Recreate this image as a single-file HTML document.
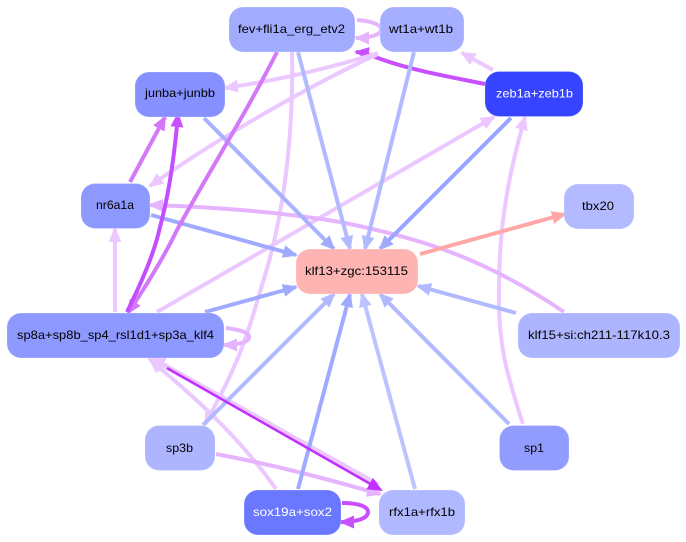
<!DOCTYPE html>
<html><head><meta charset="utf-8"><style>
html,body{margin:0;padding:0;background:#fff;width:686px;height:542px;overflow:hidden}
svg{display:block}
text{font-family:"Liberation Sans",sans-serif;font-size:12px;fill:#000}
rect{stroke:#fff;stroke-opacity:.22;stroke-width:1}
path{fill:none;stroke-width:4}
.p1{stroke:#ebc8ff;marker-end:url(#m1)}
.p2{stroke:#e6b4ff;marker-end:url(#m2)}
.p3{stroke:#d278f8;marker-end:url(#m3)}
.p4{stroke:#c850ff;marker-end:url(#m4)}
.p5{stroke:#c030ff;marker-end:url(#m5);stroke-width:2.5}
.b1{stroke:#a0aaff;marker-end:url(#b1)}
.b2{stroke:#b2baff;marker-end:url(#b2)}
.b3{stroke:#bcc3ff;marker-end:url(#b3)}
.r1{stroke:#ffa6a6;marker-end:url(#r1)}
</style></head><body>
<svg width="686" height="542" viewBox="0 0 686 542" xmlns="http://www.w3.org/2000/svg">
<defs>
<marker id="m1" markerUnits="userSpaceOnUse" orient="auto" markerWidth="16" markerHeight="15" refX="13" refY="7"><polygon points="0,0.500 15,7 0,13.500" fill="#ebc8ff"/></marker>
<marker id="m1b" markerUnits="userSpaceOnUse" orient="auto" markerWidth="20" markerHeight="19" refX="16" refY="9"><polygon points="0,0.500 19,9 0,17.500" fill="#ebc8ff"/></marker>
<marker id="m2" markerUnits="userSpaceOnUse" orient="auto" markerWidth="16" markerHeight="15" refX="13" refY="7"><polygon points="0,0.500 15,7 0,13.500" fill="#e6b4ff"/></marker>
<marker id="m3" markerUnits="userSpaceOnUse" orient="auto" markerWidth="16" markerHeight="15" refX="13" refY="7"><polygon points="0,0.500 15,7 0,13.500" fill="#d278f8"/></marker>
<marker id="m4" markerUnits="userSpaceOnUse" orient="auto" markerWidth="16" markerHeight="15" refX="13" refY="7"><polygon points="0,0.500 15,7 0,13.500" fill="#c850ff"/></marker>
<marker id="m5" markerUnits="userSpaceOnUse" orient="auto" markerWidth="16" markerHeight="15" refX="13" refY="7"><polygon points="0,0.500 15,7 0,13.500" fill="#c030ff"/></marker>
<marker id="b1" markerUnits="userSpaceOnUse" orient="auto" markerWidth="16" markerHeight="15" refX="13" refY="7"><polygon points="0,0.500 15,7 0,13.500" fill="#a0aaff"/></marker>
<marker id="b2" markerUnits="userSpaceOnUse" orient="auto" markerWidth="16" markerHeight="15" refX="13" refY="7"><polygon points="0,0.500 15,7 0,13.500" fill="#b2baff"/></marker>
<marker id="b3" markerUnits="userSpaceOnUse" orient="auto" markerWidth="16" markerHeight="15" refX="13" refY="7"><polygon points="0,0.500 15,7 0,13.500" fill="#bcc3ff"/></marker>
<marker id="r1" markerUnits="userSpaceOnUse" orient="auto" markerWidth="16" markerHeight="15" refX="13" refY="7"><polygon points="0,0.500 15,7 0,13.500" fill="#ffa6a6"/></marker>
</defs>

<!-- purple under-edge -->
<path class="p4" d="M485,84 C450,77 410,70 378,58 C371,55 365,53 356,52"/>

<!-- pale edges -->
<path class="p1" d="M292,52 C294,150 280,230 262,285 C245,345 235,370 205,424"/>
<path class="p1" d="M378,54 C310,85 215,140 150,186"/>
<path class="p1" d="M378,53 C330,68 280,80 225,88"/>
<path class="p1" d="M115,312 L115,229"/>
<path class="p1" d="M157,312 L494,117"/>
<path class="p1" d="M523,424 C505,370 498,340 499,290 C499,220 510,170 525,117"/>
<path class="p1" d="M493,70 L462,53"/>
<path class="p1" d="M276,489 C245,445 205,405 150,360"/>
<path class="p1" style="stroke-width:5.500;marker-end:url(#m1b)" d="M378,485 L149,357"/>
<path class="p2" d="M564,312 C490,262 430,240 340,222 C280,212 215,207 150,205"/>
<path class="p2" d="M216,454 C280,466 330,480 380,494"/>
<path class="p2" d="M357,20 C372,21 382,25 381,30 C380,35 370,38 356,38"/>
<path class="p2" d="M226,328 C244,330 250,334 249,338 C248,342 238,345 224,345"/>

<!-- blue edges -->
<path class="b2" d="M414,52 L365,249"/>
<path class="b2" d="M298,52 L350,249"/>
<path class="b1" style="stroke:#a8b2ff" d="M204,118 L334,249"/>
<path class="b1" d="M151,215 L296,255"/>
<path class="b1" d="M205,312 L296,287"/>
<path class="b1" style="stroke:#98a4ff" d="M511,118 L380,249"/>
<path class="b2" d="M516,313 L418,286"/>
<path class="b2" d="M509,424 L380,294"/>
<path class="b3" d="M415,489 L362,294"/>
<path class="b1" d="M298,489 L350,294"/>
<path class="b2" d="M203,425 L334,294"/>
<path class="r1" d="M420,254 L565,214"/>

<!-- purple edges -->
<path class="p3" d="M277,52 C245,115 210,170 177,230 C165,255 150,280 128,313"/>
<path class="p3" d="M130,182 L165,117"/>
<path class="p4" style="stroke:#c44dff" d="M127,312 C145,275 155,250 160,227 C170,190 175,150 178,114"/>
<path class="p5" d="M167,368 L381,490"/>
<path class="p4" d="M342,503 C360,503 368,507 368,512 C368,518 358,522 341,522"/>

<!-- nodes -->
<rect x="229" y="7" width="126" height="45" rx="14" fill="#a2acff"/>
<rect x="380" y="7" width="84" height="45" rx="14" fill="#a6afff"/>
<rect x="135" y="72" width="90" height="45" rx="14" fill="#8690ff"/>
<rect x="485" y="71.500" width="98" height="45" rx="14" fill="#3644ff"/>
<rect x="81" y="183.500" width="69" height="45" rx="14" fill="#8e99ff"/>
<rect x="564" y="184" width="70" height="45" rx="14" fill="#b4baff"/>
<rect x="296" y="249" width="122" height="45" rx="14" fill="#ffb4b4"/>
<rect x="7" y="313" width="217" height="45" rx="14" fill="#8e99ff"/>
<rect x="518" y="313" width="162" height="45" rx="14" fill="#adb5ff"/>
<rect x="145" y="425.500" width="70" height="45" rx="14" fill="#adb5ff"/>
<rect x="499.500" y="425.500" width="69.500" height="45" rx="14" fill="#929cff"/>
<rect x="244" y="490" width="97" height="45" rx="14" fill="#6a78ff"/>
<rect x="379" y="490" width="86" height="45" rx="14" fill="#b0b8ff"/>

<!-- labels -->
<text x="238" y="33" textLength="107" lengthAdjust="spacingAndGlyphs">fev+fli1a_erg_etv2</text>
<text x="389" y="33" textLength="64" lengthAdjust="spacingAndGlyphs">wt1a+wt1b</text>
<text x="145" y="97" textLength="70" lengthAdjust="spacingAndGlyphs">junba+junbb</text>
<text x="496" y="97.500" textLength="77" lengthAdjust="spacingAndGlyphs" style="fill:#fff">zeb1a+zeb1b</text>
<text x="96" y="209" textLength="38" lengthAdjust="spacingAndGlyphs">nr6a1a</text>
<text x="582" y="210" textLength="32" lengthAdjust="spacingAndGlyphs">tbx20</text>
<text x="305" y="275" textLength="103" lengthAdjust="spacingAndGlyphs">klf13+zgc:153115</text>
<text x="17" y="339" textLength="197" lengthAdjust="spacingAndGlyphs">sp8a+sp8b_sp4_rsl1d1+sp3a_klf4</text>
<text x="528" y="339" textLength="142" lengthAdjust="spacingAndGlyphs">klf15+si:ch211-117k10.3</text>
<text x="166" y="452" textLength="27" lengthAdjust="spacingAndGlyphs">sp3b</text>
<text x="524" y="452" textLength="20" lengthAdjust="spacingAndGlyphs">sp1</text>
<text x="253" y="516" textLength="79" lengthAdjust="spacingAndGlyphs" style="fill:#fff">sox19a+sox2</text>
<text x="389" y="516" textLength="66" lengthAdjust="spacingAndGlyphs">rfx1a+rfx1b</text>
</svg>
</body></html>
